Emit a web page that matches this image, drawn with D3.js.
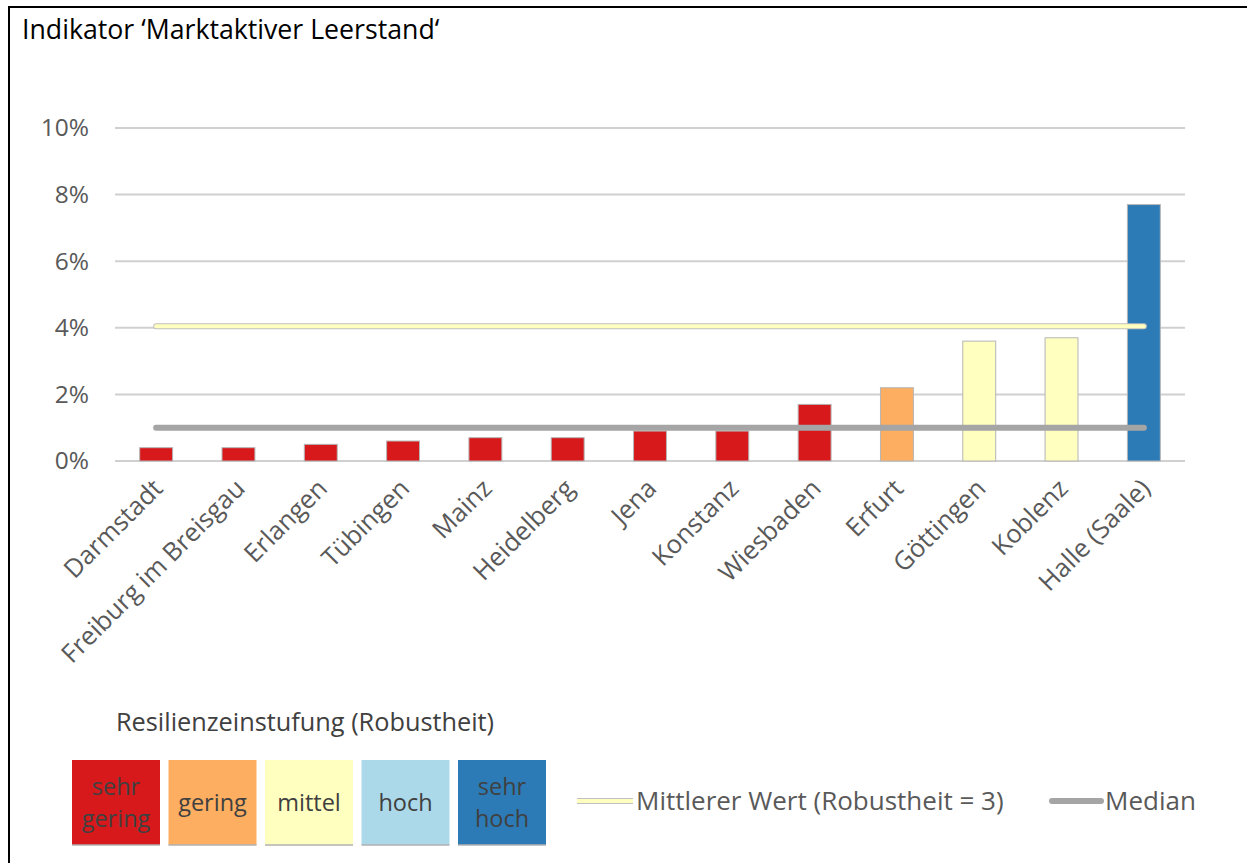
<!DOCTYPE html>
<html>
<head>
 <meta charset="UTF-8">
 <title>Marktaktiver Leerstand</title>
 <script src="https://d3js.org/d3.v7.min.js"></script>
 <style>
  body { margin: 0; background: #fff; }
  text { font-family: "Open Sans", sans-serif; }
 </style>
</head>
<body>
<script type="text/javascript">
// Daten
var cities = ["Darmstadt", "Freiburg im Breisgau", "Erlangen", "Tübingen", "Mainz", "Heidelberg",
  "Jena", "Konstanz", "Wiesbaden", "Erfurt", "Göttingen", "Koblenz", "Halle (Saale)"];
var values = [0.004, 0.004, 0.005, 0.006, 0.007, 0.007, 0.009, 0.009, 0.017, 0.022, 0.036, 0.037, 0.077];
var ratings = [0, 0, 0, 0, 0, 0, 0, 0, 0, 1, 2, 2, 4]; // index in classes
var classNames = [["sehr", "gering"], ["gering"], ["mittel"], ["hoch"], ["sehr", "hoch"]];
var classColors = ["#d7191c", "#fdae61", "#ffffbf", "#abd9e9", "#2c7bb6"];
var yTicks = [0, 0.02, 0.04, 0.06, 0.08, 0.10];
var meanValue = 0.0405;
var medianValue = 0.010;

var width = 1247, height = 863;
var svg = d3.select("body").append("svg")
  .attr("width", width)
  .attr("height", height);

// Rahmen (oben und links)
svg.append("path")
  .attr("d", "M9,870 L9,7 L1250,7")
  .attr("fill", "none")
  .attr("stroke", "#000")
  .attr("stroke-width", 2);

svg.append("text")
  .attr("x", 22).attr("y", 39)
  .attr("font-size", 26.7)
  .attr("fill", "#000")
  .text("Indikator \u2018Marktaktiver Leerstand\u2018");

var x = d3.scaleBand()
  .domain(cities)
  .range([115, 1185])
  .paddingInner(0.6)
  .paddingOuter(0.3);

var y = d3.scaleLinear()
  .domain([0, 0.1])
  .range([461, 128]);

// Gitternetz
svg.append("g").selectAll("line")
  .data(yTicks)
  .enter().append("line")
  .attr("x1", 115).attr("x2", 1185)
  .attr("y1", function (d) { return y(d); })
  .attr("y2", function (d) { return y(d); })
  .attr("stroke", "#d0d0d0")
  .attr("stroke-width", 2);

var yAxis = svg.append("g")
  .attr("transform", "translate(115,0)")
  .call(d3.axisLeft(y).tickValues(yTicks).tickFormat(d3.format(".0%")).tickSize(0).tickPadding(26));
yAxis.select(".domain").remove();
yAxis.selectAll("text")
  .attr("font-size", 24.5)
  .attr("fill", "#595959")
  .style("font-family", "'Open Sans', sans-serif");

// Balken
svg.append("g").selectAll("rect")
  .data(cities)
  .enter().append("rect")
  .attr("x", function (d) { return x(d); })
  .attr("y", function (d, i) { return y(values[i]); })
  .attr("width", x.bandwidth())
  .attr("height", function (d, i) { return y(0) - y(values[i]); })
  .attr("fill", function (d, i) { return classColors[ratings[i]]; })
  .attr("stroke", "#b5b5b5")
  .attr("stroke-width", 1);

// Linien Mittelwert und Median
var xStart = x(cities[0]) + x.bandwidth() / 2;
var xEnd = x(cities[cities.length - 1]) + x.bandwidth() / 2;

svg.append("line")
  .attr("x1", xStart).attr("x2", xEnd)
  .attr("y1", y(meanValue)).attr("y2", y(meanValue))
  .attr("stroke", "#c0c0c0").attr("stroke-width", 6).attr("stroke-linecap", "round");
svg.append("line")
  .attr("x1", xStart).attr("x2", xEnd)
  .attr("y1", y(meanValue)).attr("y2", y(meanValue))
  .attr("stroke", "#ffffbf").attr("stroke-width", 4).attr("stroke-linecap", "round");

svg.append("line")
  .attr("x1", xStart).attr("x2", xEnd)
  .attr("y1", y(medianValue)).attr("y2", y(medianValue))
  .attr("stroke", "#a5a5a5").attr("stroke-width", 6).attr("stroke-linecap", "round");

// Kategorienbeschriftung
var xAxis = svg.append("g")
  .attr("transform", "translate(0,461)")
  .call(d3.axisBottom(x).tickSize(0).tickPadding(0));
xAxis.select(".domain").remove();
xAxis.selectAll("text")
  .attr("font-size", 25.5)
  .attr("fill", "#595959")
  .style("font-family", "'Open Sans', sans-serif")
  .attr("text-anchor", "end")
  .attr("dy", null)
  .attr("y", 0)
  .attr("transform", "translate(8,29) rotate(-45)");

// Legende Resilienz
svg.append("text")
  .attr("x", 116).attr("y", 731)
  .attr("font-size", 25.3)
  .attr("fill", "#404040")
  .text("Resilienzeinstufung (Robustheit)");

var boxW = 88, boxH = 85, boxGap = 8.5;
var lg = svg.append("g").selectAll("g")
  .data(classNames)
  .enter().append("g")
  .attr("transform", function (d, i) { return "translate(" + (72 + i * (boxW + boxGap)) + ",760)"; });
lg.append("rect")
  .attr("width", boxW).attr("height", boxH)
  .attr("fill", function (d, i) { return classColors[i]; });
lg.append("line")
  .attr("x1", 0).attr("x2", boxW)
  .attr("y1", boxH).attr("y2", boxH)
  .attr("stroke", "#b0b0b0").attr("stroke-width", 1.5);
lg.append("text")
  .attr("text-anchor", "middle")
  .attr("font-size", 23.5)
  .attr("fill", "#404040")
  .selectAll("tspan")
  .data(function (d) { return d; })
  .enter().append("tspan")
  .attr("x", boxW / 2)
  .attr("y", function (d, i, nodes) {
    var n = nodes.length;
    return boxH / 2 + 8 + (i - (n - 1) / 2) * 32;
  })
  .text(function (d) { return d; });

// Legende Linien
svg.append("line")
  .attr("x1", 577).attr("x2", 633).attr("y1", 801).attr("y2", 801)
  .attr("stroke", "#c0c0c0").attr("stroke-width", 6);
svg.append("line")
  .attr("x1", 577).attr("x2", 633).attr("y1", 801).attr("y2", 801)
  .attr("stroke", "#ffffbf").attr("stroke-width", 4);
svg.append("text")
  .attr("x", 636).attr("y", 810)
  .attr("font-size", 26).attr("fill", "#595959")
  .text("Mittlerer Wert (Robustheit = 3)");

svg.append("line")
  .attr("x1", 1052).attr("x2", 1101).attr("y1", 801).attr("y2", 801)
  .attr("stroke", "#a5a5a5").attr("stroke-width", 6).attr("stroke-linecap", "round");
svg.append("text")
  .attr("x", 1105).attr("y", 810)
  .attr("font-size", 26).attr("fill", "#595959")
  .text("Median");
</script>
</body>
</html>
